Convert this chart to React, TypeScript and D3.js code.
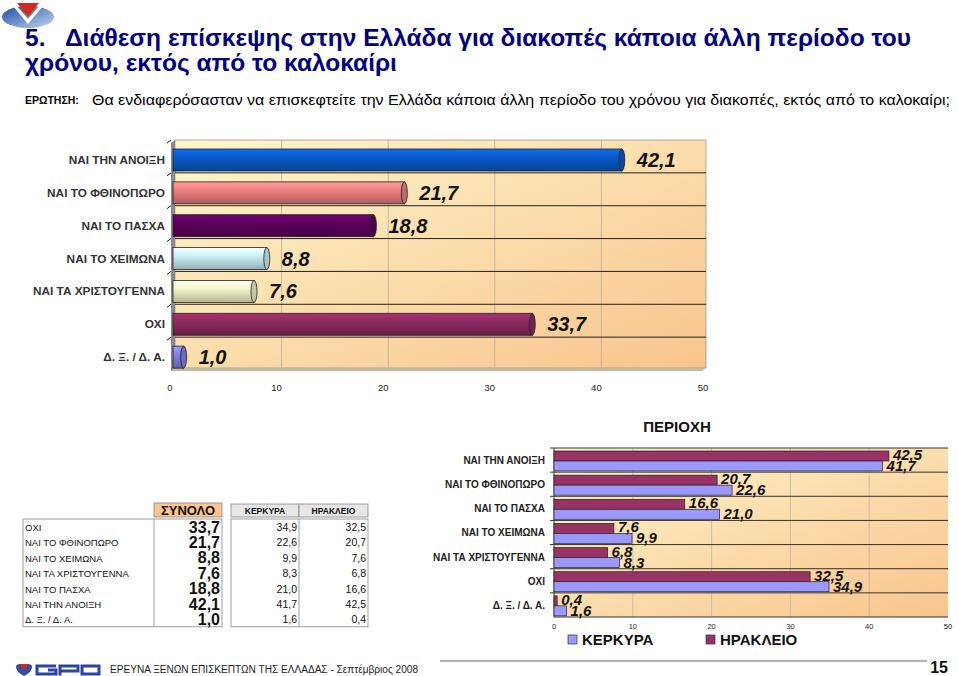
import React from "react";
import * as d3 from "d3";

const categories = [
  "ΝΑΙ ΤΗΝ ΑΝΟΙΞΗ",
  "ΝΑΙ ΤΟ ΦΘΙΝΟΠΩΡΟ",
  "ΝΑΙ ΤΟ ΠΑΣΧΑ",
  "ΝΑΙ ΤΟ ΧΕΙΜΩΝΑ",
  "ΝΑΙ ΤΑ ΧΡΙΣΤΟΥΓΕΝΝΑ",
  "ΟΧΙ",
  "Δ. Ξ. / Δ. Α.",
];
const totalValues = [42.1, 21.7, 18.8, 8.8, 7.6, 33.7, 1.0];
const kerkyraValues = [41.7, 22.6, 21.0, 9.9, 8.3, 34.9, 1.6];
const irakleioValues = [42.5, 20.7, 16.6, 7.6, 6.8, 32.5, 0.4];
const barColors = ["#0b5ccc", "#f08282", "#5e005e", "#ccf4f8", "#f8f8cc", "#8e2a62", "#8484ec"];
const tableOrder = [
  "ΟΧΙ",
  "ΝΑΙ ΤΟ ΦΘΙΝΟΠΩΡΟ",
  "ΝΑΙ ΤΟ ΧΕΙΜΩΝΑ",
  "ΝΑΙ ΤΑ ΧΡΙΣΤΟΥΓΕΝΝΑ",
  "ΝΑΙ ΤΟ ΠΑΣΧΑ",
  "ΝΑΙ ΤΗΝ ΑΝΟΙΞΗ",
  "Δ. Ξ. / Δ. Α.",
];
const axisTicks = [0, 10, 20, 30, 40, 50];
const seriesNames = ["ΚΕΡΚΥΡΑ", "ΗΡΑΚΛΕΙΟ"];
const seriesColors = ["#9999ff", "#993366"];

const FONT = "Arial, 'Liberation Sans', sans-serif";
const fmt = (v: number) => v.toFixed(1).replace(".", ",");

export default function App() {
  // top chart
  const x1 = d3.scaleLinear().domain([0, 50]).range([173, 706]);
  const y1 = d3.scaleBand().domain(categories).range([140, 370]);
  const barH1 = 22;
  // bottom chart
  const x2 = d3.scaleLinear().domain([0, 50]).range([554, 948]);
  const y2 = d3.scaleBand().domain(categories).range([448, 617]);
  const barH2 = 10;

  const tableTop = 519;
  const rowH = 15.4;
  const gpo = "#2a44a4";

  return (
    <svg width={959} height={676} style={{ position: "absolute", left: 0, top: 0, background: "#fff" }} fontFamily={FONT}>
      <defs>
        <linearGradient id="bg" x1="0" y1="0" x2="1" y2="1">
          <stop offset="0" stopColor="#fff6cc" />
          <stop offset="1" stopColor="#f8c48c" />
        </linearGradient>
        <linearGradient id="logoG" x1="0" y1="0" x2="1" y2="1">
          <stop offset="0" stopColor="#1e4c9c" />
          <stop offset="0.6" stopColor="#7f9fd4" />
          <stop offset="1" stopColor="#c8d6ef" />
        </linearGradient>
        {barColors.map((c, i) => (
          <linearGradient key={i} id={`bar${i}`} x1="0" y1="0" x2="0" y2="1">
            <stop offset="0" stopColor={d3.color(c)!.brighter(0.5).formatHex()} />
            <stop offset="0.35" stopColor={c} />
            <stop offset="1" stopColor={d3.color(c)!.darker(0.9).formatHex()} />
          </linearGradient>
        ))}
      </defs>

      {/* logo */}
      <ellipse cx={28} cy={17} rx={26} ry={11} fill="url(#logoG)" />
      <path d="M12,5 L28,24 L44,5 L40,5 L28,19 L16,5 Z" fill="#fff" />
      <path d="M17,3 L39,3 L28,17 Z" fill="#d42a1e" />

      {/* title */}
      <text x={25} y={46} fontSize={24.5} fontWeight="bold" fill="#000080">5.</text>
      <text x={65} y={46} fontSize={24.5} fontWeight="bold" fill="#000080">
        Διάθεση επίσκεψης στην Ελλάδα για διακοπές κάποια άλλη περίοδο του
      </text>
      <text x={25} y={71} fontSize={24.5} fontWeight="bold" fill="#000080">χρόνου, εκτός από το καλοκαίρι</text>

      <text x={25} y={104} fontSize={10.5} fontWeight="bold" fill="#000">ΕΡΩΤΗΣΗ:</text>
      <text x={92} y={105} fontSize={15} fill="#000" textLength={858} lengthAdjust="spacingAndGlyphs">
        Θα ενδιαφερόσασταν να επισκεφτείτε την Ελλάδα κάποια άλλη περίοδο του χρόνου για διακοπές, εκτός από το καλοκαίρι;
      </text>

      {/* top chart */}
      <rect x={175} y={140} width={531} height={228} fill="url(#bg)" stroke="#999" strokeWidth={0.8} />
      <path d="M171,143 L175,140 L175,368 L171,371 Z" fill="#8a8a8a" />
      <path d="M171,371 L175,368 L706,368 L702,371 Z" fill="#c8b8a0" />
      {axisTicks.slice(1, 5).map((t) => (
        <line key={t} x1={x1(t) + 2} x2={x1(t) + 2} y1={140} y2={368} stroke="#b8b0a0" strokeWidth={0.8} />
      ))}
      {categories.slice(1).map((c) => (
        <line key={c} x1={175} x2={706} y1={y1(c)!} y2={y1(c)!} stroke="#222" strokeWidth={1} />
      ))}
      {categories.map((c) => (
        <path key={"t" + c} d={`M167,${y1(c)! + 3} L171,${y1(c)!}`} stroke="#222" strokeWidth={1} />
      ))}
      {categories.map((c, i) => {
        const y = y1(c)! + 9;
        const xe = x1(totalValues[i]);
        return (
          <g key={"b" + c}>
            <rect x={x1(0)} y={y} width={xe - x1(0)} height={barH1} fill={`url(#bar${i})`} stroke="#222" strokeWidth={0.8} />
            <ellipse cx={xe} cy={y + barH1 / 2} rx={3} ry={barH1 / 2} fill={d3.color(barColors[i])!.darker(0.6).formatHex()} stroke="#222" strokeWidth={0.8} />
            <text x={xe + 15} y={y + barH1 / 2 + 7} fontSize={20} fontWeight="bold" fontStyle="italic" fill="#111">
              {fmt(totalValues[i])}
            </text>
            <text x={165} y={y + barH1 / 2 + 4} fontSize={11.8} fontWeight="bold" fill="#333" textAnchor="end">
              {c}
            </text>
          </g>
        );
      })}
      {axisTicks.map((t) => (
        <text key={"ax" + t} x={x1(t) - 3} y={391} fontSize={9.5} fill="#222" textAnchor="middle">{t}</text>
      ))}

      {/* table */}
      <rect x={154} y={503} width={68} height={14} fill="#fac58e" stroke="#888" strokeWidth={0.8} />
      <text x={188} y={515} fontSize={13} fontWeight="bold" fill="#111" textAnchor="middle">ΣΥΝΟΛΟ</text>
      <rect x={231} y={504} width={68} height={13} fill="#e6e6e6" stroke="#888" strokeWidth={0.8} />
      <rect x={299} y={504} width={69} height={13} fill="#e6e6e6" stroke="#888" strokeWidth={0.8} />
      <text x={265} y={514} fontSize={8.5} fontWeight="bold" fill="#111" textAnchor="middle">{seriesNames[0]}</text>
      <text x={333.5} y={514} fontSize={8.5} fontWeight="bold" fill="#111" textAnchor="middle">{seriesNames[1]}</text>
      <rect x={23} y={tableTop} width={199} height={rowH * 7} fill="none" stroke="#888" strokeWidth={0.8} />
      <line x1={154} x2={154} y1={tableTop} y2={tableTop + rowH * 7} stroke="#888" strokeWidth={0.8} />
      <rect x={231} y={tableTop} width={137} height={rowH * 7} fill="none" stroke="#888" strokeWidth={0.8} />
      <line x1={299} x2={299} y1={tableTop} y2={tableTop + rowH * 7} stroke="#888" strokeWidth={0.8} />
      {tableOrder.map((c, r) => {
        const i = categories.indexOf(c);
        const yb = tableTop + r * rowH + 12;
        return (
          <g key={"tr" + c}>
            <text x={25} y={yb} fontSize={9.5} fill="#111">{c}</text>
            <text x={220} y={yb + 1.5} fontSize={16} fontWeight="bold" fill="#111" textAnchor="end">{fmt(totalValues[i])}</text>
            <text x={297} y={yb} fontSize={10.5} fill="#111" textAnchor="end">{fmt(kerkyraValues[i])}</text>
            <text x={366} y={yb} fontSize={10.5} fill="#111" textAnchor="end">{fmt(irakleioValues[i])}</text>
          </g>
        );
      })}

      {/* bottom chart */}
      <text x={677} y={432} fontSize={15} fontWeight="bold" fill="#111" textAnchor="middle">ΠΕΡΙΟΧΗ</text>
      <rect x={554} y={448} width={394} height={169} fill="url(#bg)" />
      {axisTicks.slice(1, 5).map((t) => (
        <line key={"g2" + t} x1={x2(t)} x2={x2(t)} y1={448} y2={617} stroke="#c0b8a8" strokeWidth={0.8} />
      ))}
      {categories.map((c) => (
        <line key={"h2" + c} x1={554} x2={948} y1={y2(c)!} y2={y2(c)!} stroke="#333" strokeWidth={1} />
      ))}
      <line x1={554} x2={948} y1={617} y2={617} stroke="#333" strokeWidth={1} />
      <line x1={554} x2={554} y1={448} y2={617} stroke="#333" strokeWidth={1} />
      {categories.map((c) => (
        <line key={"tk2" + c} x1={550} x2={554} y1={y2(c)!} y2={y2(c)!} stroke="#333" strokeWidth={1} />
      ))}
      {categories.map((c, i) => {
        const top = y2(c)!;
        const yH = top + 3;
        const yK = top + 13;
        return (
          <g key={"bb" + c}>
            <rect x={x2(0)} y={yH} width={x2(irakleioValues[i]) - x2(0)} height={barH2} fill={seriesColors[1]} stroke="#222" strokeWidth={0.7} />
            <rect x={x2(0)} y={yK} width={x2(kerkyraValues[i]) - x2(0)} height={barH2} fill={seriesColors[0]} stroke="#222" strokeWidth={0.7} />
            <text x={x2(irakleioValues[i]) + 4} y={yH + barH2 - 1} fontSize={15} fontWeight="bold" fontStyle="italic" fill="#111">{fmt(irakleioValues[i])}</text>
            <text x={x2(kerkyraValues[i]) + 4} y={yK + barH2} fontSize={15} fontWeight="bold" fontStyle="italic" fill="#111">{fmt(kerkyraValues[i])}</text>
            <text x={545} y={top + 16} fontSize={10} fontWeight="bold" fill="#222" textAnchor="end">{c}</text>
          </g>
        );
      })}
      {axisTicks.map((t) => (
        <text key={"ax2" + t} x={x2(t)} y={629} fontSize={7.5} fill="#222" textAnchor="middle">{t}</text>
      ))}
      {/* legend */}
      {seriesNames.map((s, i) => {
        const lx = i === 0 ? 568 : 706;
        return (
          <g key={"lg" + s}>
            <rect x={lx} y={635} width={9} height={9} fill={seriesColors[i]} stroke="#333" strokeWidth={0.7} />
            <text x={lx + 14} y={645} fontSize={15} fontWeight="bold" fill="#111">{s}</text>
          </g>
        );
      })}

      {/* footer */}
      <line x1={440} x2={927} y1={661} y2={661} stroke="#999" strokeWidth={1.5} />
      <path d="M16,667 Q16,664 20,664 L28,664 Q32,664 32,667 Q32,672 24,676 Q16,672 16,667 Z" fill="#2f4fa8" />
      <path d="M19,664 L29,664 L24,670 Z" fill="#d42a1e" />
      {/* G */}
      <path d="M56,666 L37,666 L37,674 L56,674 L56,670 L48,670" fill="none" stroke={gpo} strokeWidth={3} />
      {/* P */}
      <path d="M60,675.5 L60,666 L78,666 L78,671 L60,671" fill="none" stroke={gpo} strokeWidth={3} />
      {/* O */}
      <rect x={82} y={666} width={17} height={8} fill="none" stroke={gpo} strokeWidth={3} />
      <text x={110} y={673} fontSize={10} fill="#222" textLength={308} lengthAdjust="spacingAndGlyphs">
        ΕΡΕΥΝΑ ΞΕΝΩΝ ΕΠΙΣΚΕΠΤΩΝ ΤΗΣ ΕΛΛΑΔΑΣ  -  Σεπτέμβριος  2008
      </text>
      <text x={948} y={673} fontSize={16} fontWeight="bold" fill="#111" textAnchor="end">15</text>
    </svg>
  );
}
